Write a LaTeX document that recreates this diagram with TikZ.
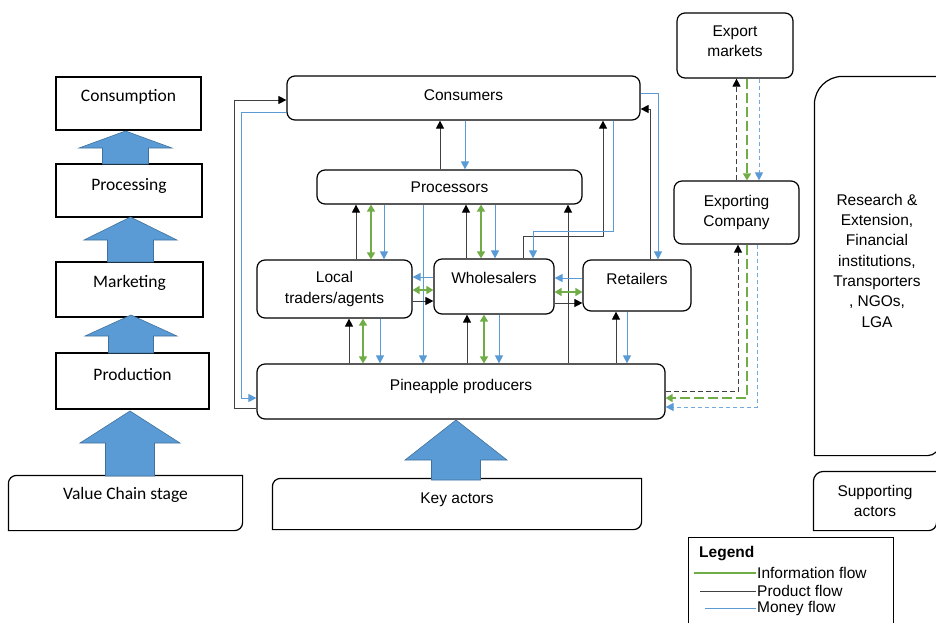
\documentclass[tikz,border=0pt]{standalone}
\usepackage{fontspec}
\setmainfont{Liberation Sans}
\newfontfamily\stagefont{Carlito}
\usetikzlibrary{arrows.meta}

\definecolor{infogreen}{HTML}{70AD47}
\definecolor{moneyblue}{HTML}{5B9BD5}
\definecolor{prodgray}{HTML}{404040}
\definecolor{stepfill}{HTML}{5B9BD5}
\definecolor{stepedge}{HTML}{41719C}

\newcommand{\actorfont}{\fontsize{15.5}{20.3}\selectfont}

\tikzset{
  plainbox/.style={draw=black, line width=1.2pt, fill=white, align=center, inner sep=0pt, font=\actorfont},
  actor/.style={plainbox, rounded corners=8pt},
  stage/.style={plainbox, font=\stagefont\fontsize{17.5}{20}\selectfont},
  lift/.style={text height=11pt, text depth=#1},
  prodflow/.style={prodgray, line width=1pt, -{Triangle[black,length=8pt,width=8pt]}},
  moneyflow/.style={moneyblue, line width=1pt, -{Triangle[length=8pt,width=8pt]}},
  infoflow/.style={infogreen, line width=1.6pt, {Triangle[length=7pt,width=8pt]}-{Triangle[length=7pt,width=8pt]}},
  prodexp/.style={prodflow, dash pattern=on 5pt off 3pt},
  infoexp/.style={infogreen, line width=1.6pt, dash pattern=on 10pt off 4pt, -{Triangle[length=7pt,width=8pt]}},
  moneyexp/.style={moneyblue!85, line width=0.9pt, dash pattern=on 4pt off 3pt, -{Triangle[moneyblue,length=8pt,width=8pt]}},
  bigarrow/.style={fill=stepfill, draw=stepedge, line width=0.6pt},
}

\begin{document}
\begin{tikzpicture}[x=1pt,y=-1pt]
  \useasboundingbox (0,0) rectangle (936,622);

  % value chain stages
  \node[stage, lift=14.8pt, minimum width=145pt, minimum height=53pt] (cnsm) at (128.5,103.5) {Consumption};
  \node[stage, lift=10.8pt, minimum width=146pt, minimum height=53pt] (prcs) at (129,190.5) {Processing};
  \node[stage, lift=14.8pt, minimum width=147pt, minimum height=55pt] (mrkt) at (129.5,289.5) {Marketing};
  \node[stage, lift=11.8pt, minimum width=153pt, minimum height=56pt] (prdn) at (132.5,381) {Production};
  \node[stage, draw=none, lift=17.8pt, minimum width=233pt, minimum height=54pt] (vcs) at (125.5,503) {Value Chain stage};

  % key actors
  \node[actor, lift=5.8pt, minimum width=353pt, minimum height=44pt] (cons) at (463.5,98) {Consumers};
  \node[actor, lift=0pt, minimum width=265pt, minimum height=34pt] (proc) at (449.5,187) {Processors};
  \node[actor, minimum width=155pt, minimum height=58pt] (local) at (334.5,289) {Local\\traders/agents};
  \node[actor, lift=16.8pt, minimum width=120pt, minimum height=55pt] (whole) at (494,286.5) {Wholesalers};
  \node[actor, lift=12.8pt, minimum width=108pt, minimum height=51pt] (retail) at (637,285.5) {Retailers};
  \node[actor, lift=12.8pt, minimum width=408pt, minimum height=55pt] (prod) at (461,391.5) {Pineapple producers};
  \node[actor, text depth=9pt, minimum width=116pt, minimum height=65pt] (expm) at (735,45.5) {Export\\markets};
  \node[actor, minimum width=125pt, minimum height=63pt] (expc) at (736.5,212.5) {Exporting\\Company};
  \node[plainbox, draw=none, lift=11.8pt, minimum width=368pt, minimum height=50pt] (keyact) at (457,504) {Key actors};

  % supporting actors
  \node[plainbox, draw=none, fill=none, text depth=11pt, minimum width=124pt, minimum height=378pt] (research) at (877,266) {Research \&\\Extension,\\Financial\\institutions,\\Transporters\\, NGOs,\\LGA};
  \node[plainbox, draw=none, fill=none, minimum width=122pt, minimum height=58pt] (support) at (875,501) {Supporting\\actors};

  \foreach \n/\ra/\rb in {vcs/8pt/8pt, keyact/8pt/8pt, research/28pt/12pt, support/10pt/8pt}
    \draw[line width=1.2pt] (\n.south west) [rounded corners=\ra] -- (\n.north west) [sharp corners] -- (\n.north east) [rounded corners=\rb] -- (\n.south east) [sharp corners] -- cycle;

  % block arrows
  \foreach \cx/\hw/\sw/\tp/\nk/\ft in {125.5/46.5/23/131/148/164, 130.5/46.5/23/217/240/262, 131/46/22.5/315/336/353, 130/50/24.5/411/443/476, 456/51/24.5/420/460/480}
    \draw[bigarrow] (\cx-\sw,\ft) -- (\cx-\sw,\nk) -- (\cx-\hw,\nk) -- (\cx,\tp) -- (\cx+\hw,\nk) -- (\cx+\sw,\nk) -- (\cx+\sw,\ft) -- cycle;

  % flows up to the processors
  \foreach \a/\bk/\gr/\bl in {local/21.5pt/36.5pt/49.5pt, whole/-28pt/-13pt/1pt} {
    \draw[prodflow] ([xshift=\bk]\a.north) -- ([xshift=\bk]\a.north |- proc.south);
    \draw[infoflow] ([xshift=\gr]\a.north) -- ([xshift=\gr]\a.north |- proc.south);
    \draw[moneyflow] ([xshift=\bl]\a.north |- proc.south) -- ([xshift=\bl]\a.north);
  }
  % flows from the producers
  \foreach \a/\bk/\gr/\bl in {local/14.5pt/28.5pt/45.5pt, whole/-27pt/-10pt/5pt} {
    \draw[prodflow] ([xshift=\bk]\a.south |- prod.north) -- ([xshift=\bk]\a.south);
    \draw[infoflow] ([xshift=\gr]\a.south |- prod.north) -- ([xshift=\gr]\a.south);
    \draw[moneyflow] ([xshift=\bl]\a.south) -- ([xshift=\bl]\a.south |- prod.north);
  }
  \draw[prodflow] ([xshift=-21pt]retail.south |- prod.north) -- ([xshift=-21pt]retail.south);
  \draw[moneyflow] ([xshift=-10pt]retail.south) -- ([xshift=-10pt]retail.south |- prod.north);
  \draw[prodflow] ([xshift=118.5pt]proc.south |- prod.north) -- ([xshift=118.5pt]proc.south);
  \draw[moneyflow] ([xshift=-26.5pt]proc.south) -- ([xshift=-26.5pt]proc.south |- prod.north);

  % processors and consumers
  \draw[prodflow] ([xshift=-9.5pt]proc.north) -- ([xshift=-9.5pt]proc.north |- cons.south);
  \draw[moneyflow] ([xshift=15.5pt]proc.north |- cons.south) -- ([xshift=15.5pt]proc.north);

  % traders, wholesalers, retailers
  \draw[moneyflow] ([yshift=9.5pt]whole.west) -- ([yshift=9.5pt]whole.west -| local.east);
  \draw[infoflow] ([yshift=-3.5pt]whole.west) -- ([yshift=-3.5pt]whole.west -| local.east);
  \draw[prodflow] ([yshift=-14.5pt]whole.west -| local.east) -- ([yshift=-14.5pt]whole.west);
  \draw[moneyflow] ([yshift=7.5pt]retail.west) -- ([yshift=7.5pt]retail.west -| whole.east);
  \draw[infoflow] ([yshift=-6.5pt]retail.west) -- ([yshift=-6.5pt]retail.west -| whole.east);
  \draw[prodflow] ([yshift=-17.5pt]retail.west -| whole.east) -- ([yshift=-17.5pt]retail.west);

  % round the outside to the consumers
  \draw[prodflow] ([yshift=-16.5pt]prod.west) -- ++(-22,0) |- ([yshift=-2pt]cons.west);
  \draw[moneyflow] ([yshift=-14pt]cons.west) -- ++(-45,0) |- ([yshift=-6.5pt]prod.west);
  \draw[moneyflow] ([yshift=5pt]cons.east) -| ([xshift=21pt]retail.north);
  \draw[prodflow] ([xshift=13pt]retail.north) |- ([yshift=-11pt]cons.east);
  \draw[prodflow] ([xshift=29pt]whole.north) -- ++(0,-22) -| ([xshift=139.5pt]cons.south);
  \draw[moneyflow] ([xshift=149.5pt]cons.south) -- ++(0,111) -| ([xshift=39pt]whole.north);

  % export chain
  \draw[prodexp] (expc.north) -- (expc.north |- expm.south);
  \draw[infoexp] ([xshift=12pt]expm.south) -- ([xshift=12pt]expm.south |- expc.north);
  \draw[moneyexp] ([xshift=24pt]expm.south) -- ([xshift=24pt]expm.south |- expc.north);
  \draw[prodexp] (prod.east) -| ([xshift=1.5pt]expc.south);
  \draw[infoexp] ([xshift=10.5pt]expc.south) |- ([yshift=-6.5pt]prod.east);
  \draw[moneyexp] ([xshift=20.5pt]expc.south) |- ([yshift=-15.5pt]prod.east);

  % legend
  \node[draw=black, line width=1pt, minimum width=205pt, minimum height=106pt, inner sep=0pt] (legend) at (790.5,590) {};
  \node[anchor=west, inner sep=1pt, font=\actorfont\bfseries] (legtitle) at (698,554) {Legend};
  \node[anchor=west, inner sep=1pt, font=\actorfont] (leginfo) at (756,573) {Information flow};
  \node[anchor=west, inner sep=1pt, font=\actorfont] (legprod) at (756,591) {Product flow};
  \node[anchor=west, inner sep=1pt, font=\actorfont] (legmoney) at (756,608) {Money flow};
  \draw[infogreen, line width=1.6pt] (leginfo.west) -- ++(-62,0);
  \draw[prodgray, line width=1pt] (legprod.west) -- ++(-56,0);
  \draw[moneyblue, line width=1pt] (legmoney.west) -- ++(-51,0);
\end{tikzpicture}
\end{document}
